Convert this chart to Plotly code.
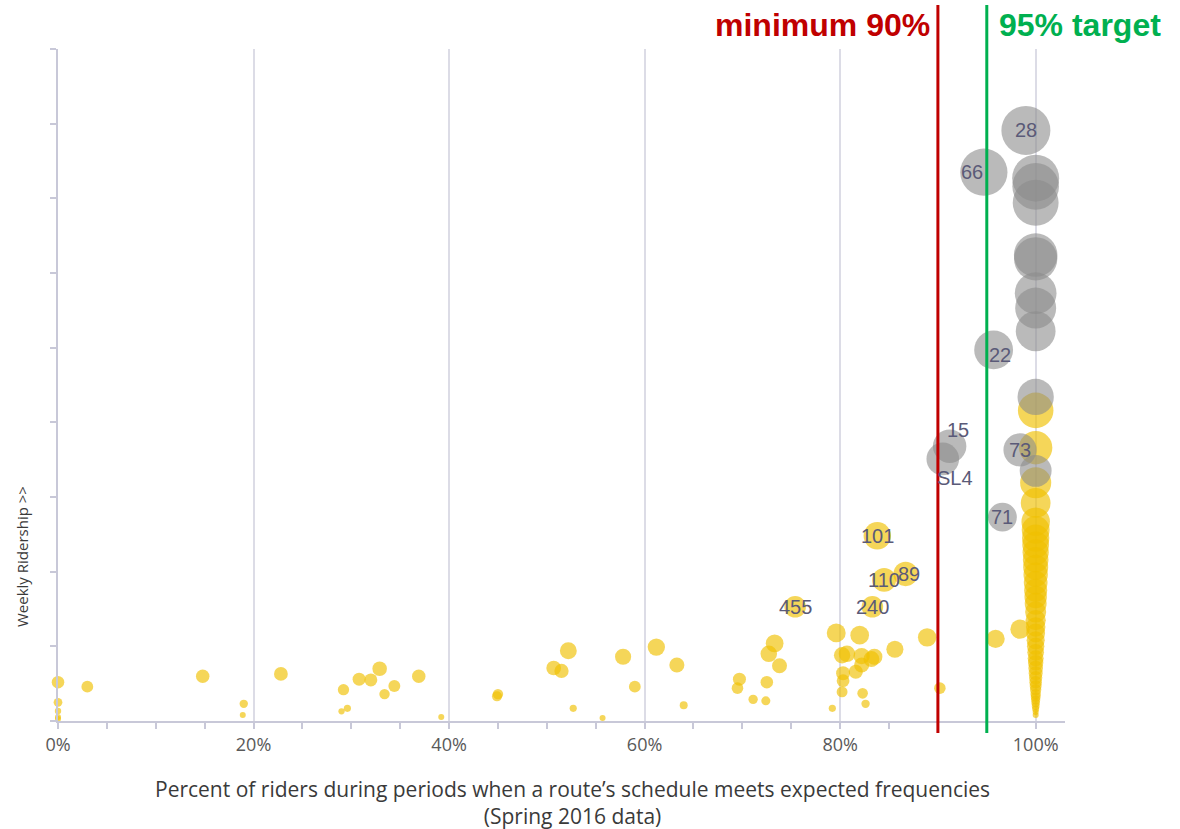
import plotly.graph_objects as go

# ---- data (x: % of riders when schedule meets frequencies, y: weekly ridership, thousands) ----
gray_x = [99.0, 94.7, 100, 100, 100, 100, 100, 100, 100, 100, 95.7, 100, 91.2, 90.5, 98.4, 100, 96.6]
gray_y = [79.1, 73.5, 72.7, 71.6, 69.4, 62.4, 61.9, 57.3, 55.3, 52.2, 49.7, 43.4, 36.8, 35.1, 36.3, 33.5, 27.3]
gray_labels = ["28", "66", "", "", "", "", "", "", "", "", "22", "", "15", "SL4", "73", "", "71"]

yellow_x = [0, 0, 0, 0, 0, 3.0, 14.8, 19.0, 18.9, 22.8, 29.2, 29.0, 29.6, 30.8, 32.0, 32.9, 33.4, 34.4,
            36.9, 39.2, 44.9, 45.0, 50.7, 51.5, 52.2, 52.7, 55.7, 57.8, 59.0, 61.2, 63.3, 64.0, 69.7,
            69.5, 71.1, 72.4, 72.5, 72.7, 73.3, 73.8, 75.4, 79.2, 79.6, 80.2, 80.7, 80.3, 80.3, 80.2,
            81.6, 82.2, 82.2, 82.0, 82.3, 82.6, 83.2, 83.5, 83.3, 83.8, 84.5, 86.7, 85.6, 88.9, 90.2,
            95.9, 98.4,
            100, 100, 100, 100,
            100, 100, 100, 100, 100, 100, 100, 100, 100, 100, 100, 100, 100, 100, 100, 100, 100, 100,
            100, 100, 100, 100, 100, 100, 100, 100, 100, 100, 100, 100, 100, 100, 100, 100, 100]
yellow_y = [5.2, 2.5, 1.35, 0.54, 0.27, 4.6, 6.0, 2.3, 0.8, 6.3, 4.2, 1.3, 1.7, 5.6, 5.5, 7.0, 3.6, 4.7,
            6.0, 0.54, 3.3, 3.6, 7.1, 6.7, 9.4, 1.7, 0.4, 8.6, 4.6, 9.9, 7.5, 2.1, 5.6,
            4.4, 2.9, 2.7, 5.2, 9.0, 10.4, 7.4, 15.3, 1.7, 11.8, 8.8, 9.0, 6.4, 5.4, 3.9,
            6.6, 7.5, 8.7, 11.5, 3.7, 2.3, 8.3, 8.6, 15.3, 24.8, 18.9, 19.7, 9.6, 11.2, 4.4,
            11.0, 12.3,
            41.6, 36.6, 31.9, 29.2,
            26.7, 25.6, 24.5, 23.6, 22.6, 21.6, 20.6, 19.6, 18.5, 17.5, 16.6, 15.7, 14.6, 13.5, 12.6,
            11.8, 10.8, 10.0, 9.2, 8.4, 7.8, 7.1, 6.4, 5.8, 5.2, 4.7, 4.2, 3.6, 3.2, 2.8, 2.4, 2.0,
            1.6, 1.2, 0.8]
yellow_labels = [""] * len(yellow_x)
for _i, _lab in [(40, "455"), (56, "240"), (57, "101"), (58, "110"), (59, "89")]:
    yellow_labels[_i] = _lab

x_ticks = [0, 20, 40, 60, 80, 100]
x_ticktext = ["0%", "20%", "40%", "60%", "80%", "100%"]
minimum_pct = 90
target_pct = 95

# ---- styling ----
MAX_Y = max(gray_y + yellow_y)
SIZEREF = 2 * MAX_Y / 49 ** 2
label_offsets = {"66": (-12, 0), "22": (6, -5), "15": (8, 16), "SL4": (12, -19), "89": (3, 0)}
AXIS_C = "#c8c8d8"

fig = go.Figure()
fig.add_trace(go.Scatter(
    x=yellow_x, y=yellow_y, mode="markers", cliponaxis=False, hoverinfo="skip",
    marker=dict(size=yellow_y, sizemode="area", sizeref=SIZEREF, sizemin=3,
                color="#f0c000", opacity=0.65, line=dict(width=0)),
))
fig.add_trace(go.Scatter(
    x=gray_x, y=gray_y, mode="markers", cliponaxis=False, hoverinfo="skip",
    marker=dict(size=gray_y, sizemode="area", sizeref=SIZEREF, sizemin=3,
                color="#8c8c8c", opacity=0.6, line=dict(width=0)),
))

for xs, ys, labs in [(yellow_x, yellow_y, yellow_labels), (gray_x, gray_y, gray_labels)]:
    for xv, yv, lab in zip(xs, ys, labs):
        if lab:
            dx, dy = label_offsets.get(lab, (0, 0))
            fig.add_annotation(x=xv, y=yv, text=lab, showarrow=False, xshift=dx, yshift=dy,
                               font=dict(family="Liberation Sans, Arial", size=20, color="#5a5a78"))

line_y0 = -12 / 672
line_y1 = 716 / 672
fig.add_shape(type="line", xref="x", yref="paper", x0=minimum_pct, x1=minimum_pct,
              y0=line_y0, y1=line_y1, line=dict(color="#c00000", width=3))
fig.add_shape(type="line", xref="x", yref="paper", x0=target_pct, x1=target_pct,
              y0=line_y0, y1=line_y1, line=dict(color="#00b050", width=3))
fig.add_annotation(x=minimum_pct, xref="x", y=1.0, yref="paper", yshift=24, xshift=-6,
                   text="<b>minimum 90%</b>", showarrow=False, xanchor="right", yanchor="middle",
                   font=dict(family="Liberation Sans, Arial", size=32, color="#c00000"))
fig.add_annotation(x=target_pct, xref="x", y=1.0, yref="paper", yshift=24, xshift=10,
                   text="<b>95% target</b>", showarrow=False, xanchor="left", yanchor="middle",
                   font=dict(family="Liberation Sans, Arial", size=32, color="#00b050"))

fig.add_annotation(x=(572 - 58) / 1007, xref="paper", y=(721 - 773) / 672, yref="paper",
                   text="Percent of riders during periods when a route’s schedule meets expected frequencies<br>(Spring 2016 data)",
                   showarrow=False, xanchor="center", yanchor="top",
                   font=dict(family="Open Sans", size=21, color="#3a3a3a"))
fig.add_annotation(x=(22 - 58) / 1007, xref="paper", y=(721 - 557) / 672, yref="paper",
                   text="Weekly Ridership >>", textangle=-90, showarrow=False,
                   xanchor="center", yanchor="middle",
                   font=dict(family="Open Sans", size=15, color="#3a3a3a"))

fig.update_layout(
    width=1180, height=829, margin=dict(l=58, r=115, t=49, b=108),
    paper_bgcolor="white", plot_bgcolor="white", showlegend=False,
    xaxis=dict(range=[0, 103], tickmode="array", tickvals=x_ticks, ticktext=x_ticktext,
               showline=True, linecolor=AXIS_C, linewidth=2, ticks="outside", ticklen=6, tickwidth=2,
               tickcolor=AXIS_C, showgrid=True, gridcolor="#dcdce6", gridwidth=2,
               zeroline=False, tickfont=dict(family="Open Sans", size=18, color="#595959"),
               minor=dict(tickmode="linear", tick0=0, dtick=5, ticks="outside", ticklen=6,
                          tickwidth=2, tickcolor=AXIS_C, showgrid=False)),
    yaxis=dict(range=[0, 90], dtick=10, showticklabels=False, showline=True,
               linecolor=AXIS_C, linewidth=2, ticks="outside", ticklen=6, tickwidth=2,
               tickcolor=AXIS_C, showgrid=False, zeroline=False),
)
fig.write_html("out.html")
